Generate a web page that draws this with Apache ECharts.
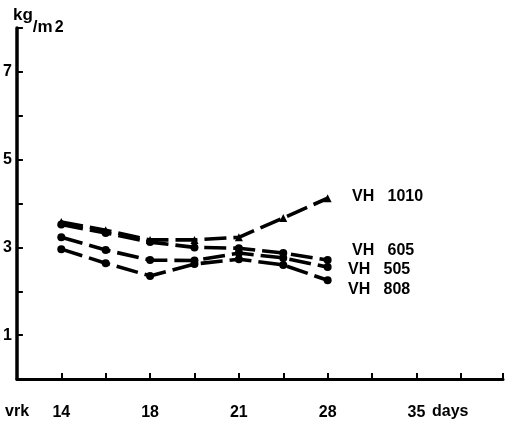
<!DOCTYPE html>
<html>
<head>
<meta charset="utf-8">
<script src="https://cdn.jsdelivr.net/npm/echarts@6/dist/echarts.min.js"></script>
<style>html,body{margin:0;padding:0;background:#fff}#c{width:510px;height:431px}</style>
</head>
<body>
<div id="c"></div>
<script>
// x positions (tick index) of the measured days
var xIndex = [0, 1, 2, 3, 4, 5, 6];
// tick labels at tick index
var tickLabels = {0: '14', 2: '18', 4: '21', 6: '28', 8: '35'};
var yTickLabels = [1, 3, 5, 7];
var seriesNames = ['VH 1010', 'VH 605', 'VH 505', 'VH 808'];
var vh1010 = [3.58, 3.39, 3.17, 3.17, 3.23, 3.67, 4.12];
var vh605  = [3.52, 3.33, 3.12, 3.00, 2.98, 2.87, 2.71];
var vh505  = [3.23, 2.94, 2.71, 2.70, 2.87, 2.76, 2.55];
var vh808  = [2.96, 2.64, 2.35, 2.62, 2.73, 2.60, 2.25];
var symbols = ['triangle', 'circle', 'circle', 'circle'];

var allValues = [vh1010, vh605, vh505, vh808];
var FONT = 'Liberation Sans, Arial, sans-serif';

function mk(i) {
  return {
    name: seriesNames[i],
    type: 'line',
    data: xIndex.map(function (x, k) { return [x, allValues[i][k]]; }),
    symbol: symbols[i],
    symbolSize: 8,
    itemStyle: {color: '#000'},
    lineStyle: {color: '#000', width: 3.6, type: [22, 7]},
    animation: false
  };
}

var chart = echarts.init(document.getElementById('c'));
chart.setOption({
  backgroundColor: '#fff',
  animation: false,
  grid: {left: 16, right: 7, top: 28, bottom: 52, containLabel: false},
  xAxis: {
    type: 'value', min: -1, max: 9.95, interval: 1,
    axisLine: {onZero: false, lineStyle: {color: '#000', width: 3}},
    axisTick: {show: true, inside: true, length: 6, lineStyle: {color: '#000', width: 2}},
    splitLine: {show: false},
    axisLabel: {
      margin: 26, color: '#000', fontFamily: FONT, fontWeight: 'bold', fontSize: 16,
      formatter: function (v) { return tickLabels[v] !== undefined ? tickLabels[v] : ''; }
    }
  },
  yAxis: {
    type: 'value', min: 0, max: 8, interval: 1,
    axisLine: {onZero: false, lineStyle: {color: '#000', width: 3.5}},
    axisTick: {show: true, inside: true, length: 6, lineStyle: {color: '#000', width: 2}},
    splitLine: {show: false},
    axisLabel: {
      margin: 5, color: '#000', fontFamily: FONT, fontWeight: 'bold', fontSize: 16,
      formatter: function (v) { return yTickLabels.indexOf(v) >= 0 ? String(v) : ''; }
    }
  },
  graphic: [
    {type: 'text', left: 13, top: 7, style: {
      text: '{a|kg}{b|/m}{c|2}', fill: '#000',
      rich: {
        a: {fontFamily: FONT, fontWeight: 'bold', fontSize: 17, verticalAlign: 'top', padding: [0, 0, 10, 0]},
        b: {fontFamily: FONT, fontWeight: 'bold', fontSize: 17, verticalAlign: 'bottom', padding: [12, 0, 0, 0]},
        c: {fontFamily: FONT, fontWeight: 'bold', fontSize: 16, verticalAlign: 'bottom', padding: [6, 0, 0, 2]}
      }
    }},
    {type: 'text', left: 5, top: 404, style: {text: 'vrk', fill: '#000', font: 'bold 16px ' + FONT}},
    {type: 'text', left: 432, top: 404, style: {text: 'days', fill: '#000', font: 'bold 16px ' + FONT}},
    {type: 'text', left: 352, top: 189, style: {text: seriesNames[0].replace(' ', '   '), fill: '#000', font: 'bold 16px ' + FONT}},
    {type: 'text', left: 352, top: 243, style: {text: seriesNames[1].replace(' ', '   '), fill: '#000', font: 'bold 16px ' + FONT}},
    {type: 'text', left: 348, top: 262, style: {text: seriesNames[2].replace(' ', '   '), fill: '#000', font: 'bold 16px ' + FONT}},
    {type: 'text', left: 348, top: 282, style: {text: seriesNames[3].replace(' ', '   '), fill: '#000', font: 'bold 16px ' + FONT}}
  ],
  series: [mk(0), mk(1), mk(2), mk(3)]
});
</script>
</body>
</html>
